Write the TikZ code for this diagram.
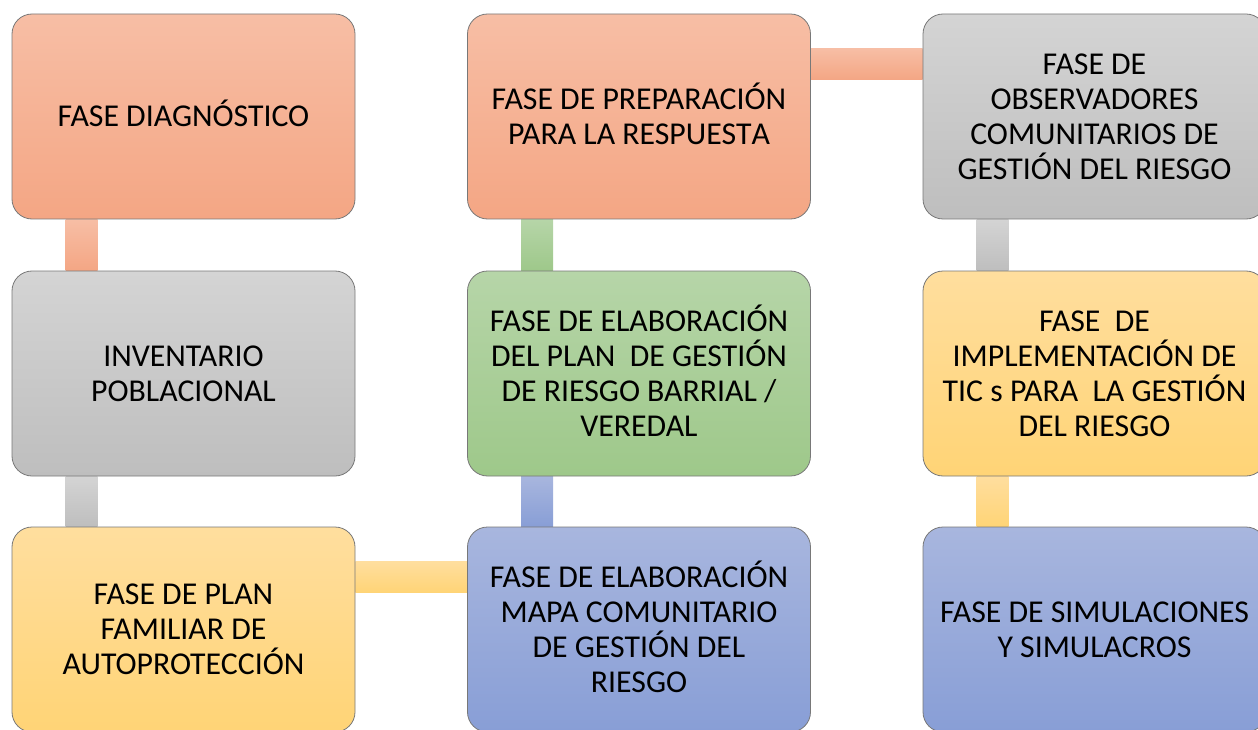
\documentclass[tikz,border=0pt]{standalone}
\usepackage{fontspec}
\setmainfont{Carlito}
\usetikzlibrary{backgrounds}
\definecolor{salT}{RGB}{247,190,165}
\definecolor{salB}{RGB}{244,166,132}
\definecolor{gryT}{RGB}{212,212,212}
\definecolor{gryB}{RGB}{190,190,190}
\definecolor{grnT}{RGB}{182,213,168}
\definecolor{grnB}{RGB}{158,200,138}
\definecolor{yelT}{RGB}{255,222,158}
\definecolor{yelB}{RGB}{255,212,118}
\definecolor{bluT}{RGB}{168,182,222}
\definecolor{bluB}{RGB}{136,158,214}
\definecolor{edge}{RGB}{120,120,120}
\newcommand{\sm}[1]{\smash{#1}}
\tikzset{
  x=1pt, y=1pt,
  phase/.style={draw=edge, line width=0.8pt, rounded corners=20pt,
    minimum width=343pt, minimum height=205pt, inner sep=0pt,
    align=center, font=\fontsize{31.8}{35}\selectfont, text=black},
  salmon/.style={top color=salT, bottom color=salB},
  grey/.style={top color=gryT, bottom color=gryB},
  green/.style={top color=grnT, bottom color=grnB},
  yellow/.style={top color=yelT, bottom color=yelB},
  blue/.style={top color=bluT, bottom color=bluB},
}
\begin{document}
\begin{tikzpicture}
\clip (0,0) rectangle (1258,-730);
% column 1
\node[phase, salmon] (diag) at (183.5,-116.5) {FASE DIAGN\sm{Ó}STICO};
\node[phase, grey] (inv) at (183.5,-373.5) {INVENTARIO\\POBLACIONAL};
\node[phase, yellow] (plan) at (183.5,-629.5) {FASE DE PLAN\\FAMILIAR DE\\AUTOPROTECCIÓN};
% column 2
\node[phase, salmon] (prep) at (639,-116.5) {FASE DE PREPARACI\sm{Ó}N\\PARA LA RESPUES\sm{T}A};
\node[phase, green] (elab) at (639,-373.5) {FASE DE ELABORACI\sm{Ó}N\\DEL PLAN~ DE GESTIÓN\\DE RIESGO BARRIAL /\\VEREDAL};
\node[phase, blue] (mapa) at (639,-629.5) {FASE DE ELABORACI\sm{Ó}N\\MAPA COMUNITARIO\\DE GESTIÓN DEL\\RIESGO};
% column 3
\node[phase, grey] (obs) at (1094.5,-116.5) {FASE DE\\OBSERVADORES\\COMUNITARIOS DE\\GESTIÓN DEL RIESGO};
\node[phase, yellow] (tic) at (1094.5,-373.5) {FASE~ DE\\IMPLEMENTACIÓN DE\\TIC s PARA~ LA GESTIÓN\\DEL RIESGO};
\node[phase, blue] (sim) at (1094.5,-629.5) {FASE DE SIMULACIONES\\Y SIMULACROS};
% connectors
\begin{scope}[on background layer]
\path[salmon] ([xshift=54pt]diag.south west) rectangle ([xshift=86pt]inv.north west);
\path[grey] ([xshift=54pt]inv.south west) rectangle ([xshift=86pt]plan.north west);
\path[yellow] ([yshift=-35pt]plan.north east) rectangle ([yshift=-66pt]mapa.north west);
\path[blue] ([xshift=54pt]mapa.north west) rectangle ([xshift=86pt]elab.south west);
\path[green] ([xshift=54pt]elab.north west) rectangle ([xshift=86pt]prep.south west);
\path[salmon] ([yshift=-35pt]prep.north east) rectangle ([yshift=-66pt]obs.north west);
\path[grey] ([xshift=54pt]obs.south west) rectangle ([xshift=86pt]tic.north west);
\path[yellow] ([xshift=54pt]tic.south west) rectangle ([xshift=86pt]sim.north west);
\end{scope}
\end{tikzpicture}
\end{document}
